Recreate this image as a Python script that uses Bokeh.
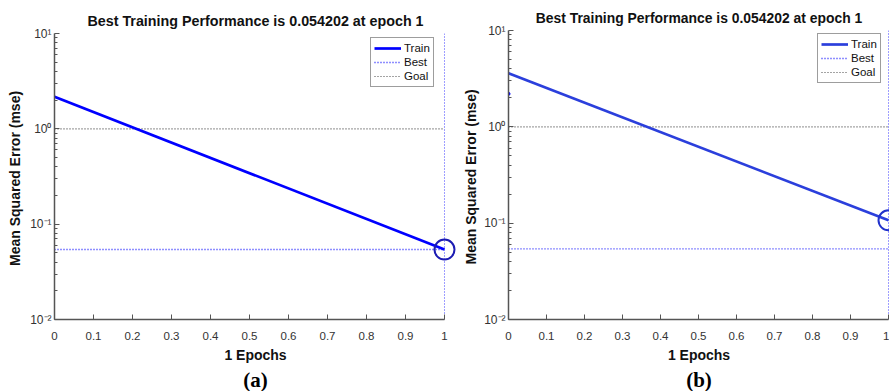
from bokeh.plotting import figure
from bokeh.layouts import row
from bokeh.models import (FixedTicker, CustomJSTickFormatter, Legend, LegendItem,
                          Title, Range1d)
from bokeh.embed import file_html
from bokeh.resources import INLINE

# ---- data ----
epochs = [0, 1]
train_a = [2.17, 0.054202]
train_b = [3.6, 0.107]
stray_b_x = [0]
stray_b_y = [2.2]
best_perf = 0.054202
best_epoch = 1
goal_mse = 1.0
title_text = "Best Training Performance is 0.054202 at epoch 1"
x_ticks = [0, 0.1, 0.2, 0.3, 0.4, 0.5, 0.6, 0.7, 0.8, 0.9, 1]
y_major = [0.01, 0.1, 1, 10]
y_minor = [m * 10.0 ** e for e in (-2, -1, 0) for m in range(2, 10)]
panel_labels = ["(a)", "(b)"]

FONT = "Liberation Sans"


def make_panel(train, circle_y, label, width, b_left, b_right, b_top, x_end,
               train_color, circle_color, legend_xy, title_size, title_off,
               title_standoff, label_off, ylab_standoff):
    p = figure(width=width, height=391, x_range=Range1d(0, x_end),
               y_range=Range1d(0.01, 10), y_axis_type="log",
               output_backend="svg", toolbar_location=None,
               min_border_left=b_left, min_border_right=b_right,
               min_border_top=b_top, min_border_bottom=69)
    p.frame_align = False
    p.outline_line_color = None
    p.grid.visible = False
    p.background_fill_color = "white"
    p.border_fill_color = "white"

    p.title.text = title_text
    p.title.align = "center"
    p.title.text_font = FONT
    p.title.text_font_size = title_size
    p.title.text_font_style = "bold"
    p.title.text_color = "#111111"
    p.title.standoff = title_standoff
    p.title.offset = title_off

    # goal line
    goal_r = p.line([0, 1], [goal_mse, goal_mse], line_color="#4a4a4a",
                    line_width=1.2, line_dash="1 2")
    # best lines
    best_r = p.line([0, 1], [best_perf, best_perf], line_color="#1e1eff",
                    line_width=1.3, line_dash="1 2")
    p.line([best_epoch, best_epoch], [0.01, 10], line_color="#3c3cff",
           line_width=1, line_dash="1 2")
    # train
    train_r = p.line(epochs, train, line_color=train_color, line_width=2.7)
    p.scatter([best_epoch], [circle_y], size=20, fill_color=None,
              line_color=circle_color, line_width=2)

    # axes
    xa = p.xaxis[0]
    xa.bounds = (0, 1)
    xa.ticker = FixedTicker(ticks=x_ticks)
    xa.formatter = CustomJSTickFormatter(
        code="return tick.toFixed(1).replace(/\\.0$/, '');")
    ya = p.yaxis[0]
    ya.ticker = FixedTicker(ticks=y_major, minor_ticks=y_minor)
    ya.formatter = CustomJSTickFormatter(code="""
        const e = Math.round(Math.log10(tick));
        const sup = {'-':'\u207b','0':'\u2070','1':'\u00b9','2':'\u00b2','3':'\u00b3'};
        return '10' + String(e).split('').map(c => sup[c]).join('');
    """)
    for ax in (xa, ya):
        ax.axis_line_color = "#555555"
        ax.axis_line_width = 1.5
        ax.major_tick_line_color = "#555555"
        ax.minor_tick_line_color = "#555555"
        ax.major_tick_in = 5
        ax.major_tick_out = 0
        ax.minor_tick_in = 3
        ax.minor_tick_out = 0
        ax.major_label_text_font = FONT
        ax.major_label_text_font_size = "11.5px"
        ax.major_label_text_color = "#333333"
        ax.axis_label_text_font = FONT
        ax.axis_label_text_font_style = "bold"
        ax.axis_label_text_color = "#111111"
    xa.axis_label_text_font_size = "14px"
    ya.axis_label_text_font_size = "14px"
    ya.major_label_text_font_size = "12px"
    xa.axis_label_standoff = 4
    ya.axis_label_standoff = ylab_standoff
    xa.minor_tick_line_color = None
    xa.major_label_standoff = 12
    ya.major_label_standoff = 3
    xa.axis_label = "1 Epochs"
    ya.axis_label = "Mean Squared Error  (mse)"

    lab = Title(text=label, align="center", text_font="Liberation Serif",
                text_font_size="21px", text_font_style="bold",
                text_color="#000000", standoff=0, offset=label_off)
    p.add_layout(lab, "below")

    legend = Legend(items=[LegendItem(label="Train", renderers=[train_r]),
                           LegendItem(label="Best", renderers=[best_r]),
                           LegendItem(label="Goal", renderers=[goal_r])],
                    location=legend_xy)
    legend.glyph_width = 27
    legend.glyph_height = 14
    legend.label_height = 14
    legend.label_standoff = 3
    legend.padding = 3
    legend.spacing = 0
    legend.margin = 0
    legend.label_text_font = FONT
    legend.label_text_font_size = "11.5px"
    legend.label_text_color = "#111111"
    legend.border_line_color = "#3c3c3c"
    legend.border_line_width = 1.5
    legend.background_fill_color = "white"
    legend.background_fill_alpha = 1
    p.add_layout(legend)
    return p


p1 = make_panel(train_a, train_a[-1], panel_labels[0], 458, 54, 2, 33, 1.0308,
                "#0000ff", "#1c1cb3", (316, 232), "14.3px", -6, 10, 0, 4)
p2 = make_panel(train_b, train_b[-1], panel_labels[1], 431, 50, 0, 30, 1.0026,
                "#2b3fdc", "#2233cc", (309, 236), "13.9px", 0, 9, 6, 2)
p2.scatter(stray_b_x, stray_b_y, size=3, color="#0000ff")

layout = row(p1, p2)
open("out.html", "w").write(file_html(layout, INLINE))
